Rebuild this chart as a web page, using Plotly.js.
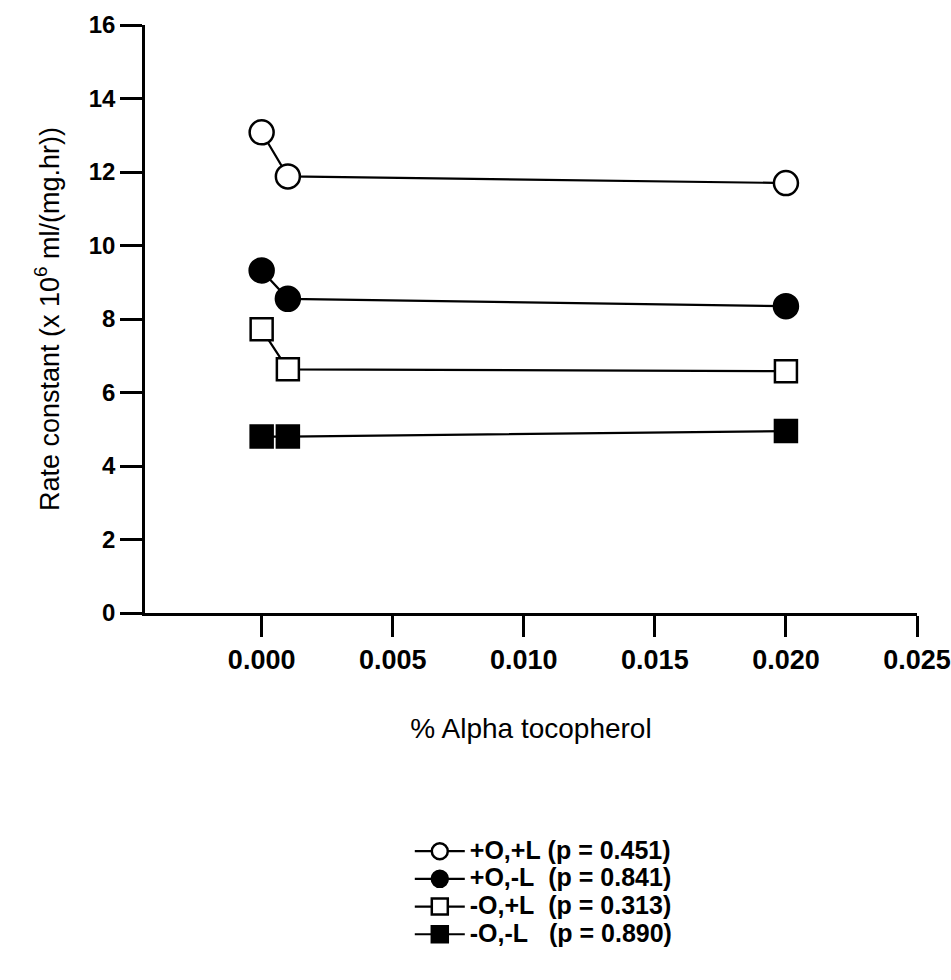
<!DOCTYPE html>
<html>
<head>
<meta charset="utf-8">
<script src="https://cdn.plot.ly/plotly-3.0.1.min.js"></script>
<style>html,body{margin:0;padding:0;background:#fff;}#chart{width:951px;height:980px;}</style>
</head>
<body>
<div id="chart"></div>
<script>
// Data
const alphaTocopherol = [0.000, 0.001, 0.020];
const seriesNames = ["+O,+L (p = 0.451)", "+O,-L  (p = 0.841)", "-O,+L  (p = 0.313)", "-O,-L   (p = 0.890)"];
const rateOpLp = [13.08, 11.88, 11.70];   // +O,+L
const rateOpLm = [9.32, 8.55, 8.35];      // +O,-L
const rateOmLp = [7.72, 6.63, 6.58];      // -O,+L
const rateOmLm = [4.80, 4.80, 4.95];      // -O,-L
const xTickVals = [0.000, 0.005, 0.010, 0.015, 0.020, 0.025];
const xTickText = ["0.000", "0.005", "0.010", "0.015", "0.020", "0.025"];
const yTickVals = [0, 2, 4, 6, 8, 10, 12, 14, 16];

const seriesY = [rateOpLp, rateOpLm, rateOmLp, rateOmLm];
const symbols = ["circle", "circle", "square", "square"];
const fills = ["#fff", "#000", "#fff", "#000"];
const sizes = [24, 24, 22, 22];

const FONT = "Liberation Sans, Arial, Helvetica, sans-serif";

const traces = seriesY.map((ys, i) => ({
  x: alphaTocopherol,
  y: ys,
  name: '<span style="font-size:25px">' + seriesNames[i].replace(/ /g, "\u00a0") + '</span>',
  type: "scatter",
  mode: "lines+markers",
  line: {color: "#000", width: 2.2},
  marker: {
    symbol: symbols[i],
    size: sizes[i],
    color: fills[i],
    line: {color: "#000", width: 2.5}
  }
}));

const layout = {
  width: 951,
  height: 980,
  paper_bgcolor: "#fff",
  plot_bgcolor: "#fff",
  margin: {l: 145, r: 34, t: 25, b: 367},
  showlegend: true,
  legend: {
    x: 0.343, y: -0.373, xanchor: "left", yanchor: "top",
    font: {family: FONT, size: 19, color: "#000", weight: 700},
    bgcolor: "rgba(0,0,0,0)",
    itemwidth: 50
  },
  xaxis: {
    range: [-0.00445, 0.025],
    tickvals: xTickVals,
    ticktext: xTickText,
    ticks: "outside",
    ticklen: 21,
    tickwidth: 2.5,
    tickcolor: "#000",
    showline: true,
    linecolor: "#000",
    linewidth: 2.5,
    showgrid: false,
    zeroline: false,
    tickfont: {family: FONT, size: 27, color: "#000", weight: 700},
    title: {text: "% Alpha tocopherol", font: {family: FONT, size: 28, color: "#000"}, standoff: 45}
  },
  yaxis: {
    range: [0, 16],
    tickvals: yTickVals,
    ticks: "outside",
    ticklen: 22,
    tickwidth: 2.5,
    tickcolor: "#000",
    showline: true,
    linecolor: "#000",
    linewidth: 2.5,
    showgrid: false,
    zeroline: false,
    tickfont: {family: FONT, size: 24, color: "#000", weight: 700},
    title: {text: "Rate constant (x 10<sup>6</sup> ml/(mg.hr))", font: {family: FONT, size: 27, color: "#000"}, standoff: 22}
  }
};

Plotly.newPlot("chart", traces, layout, {displayModeBar: false, responsive: false});
</script>
</body>
</html>
